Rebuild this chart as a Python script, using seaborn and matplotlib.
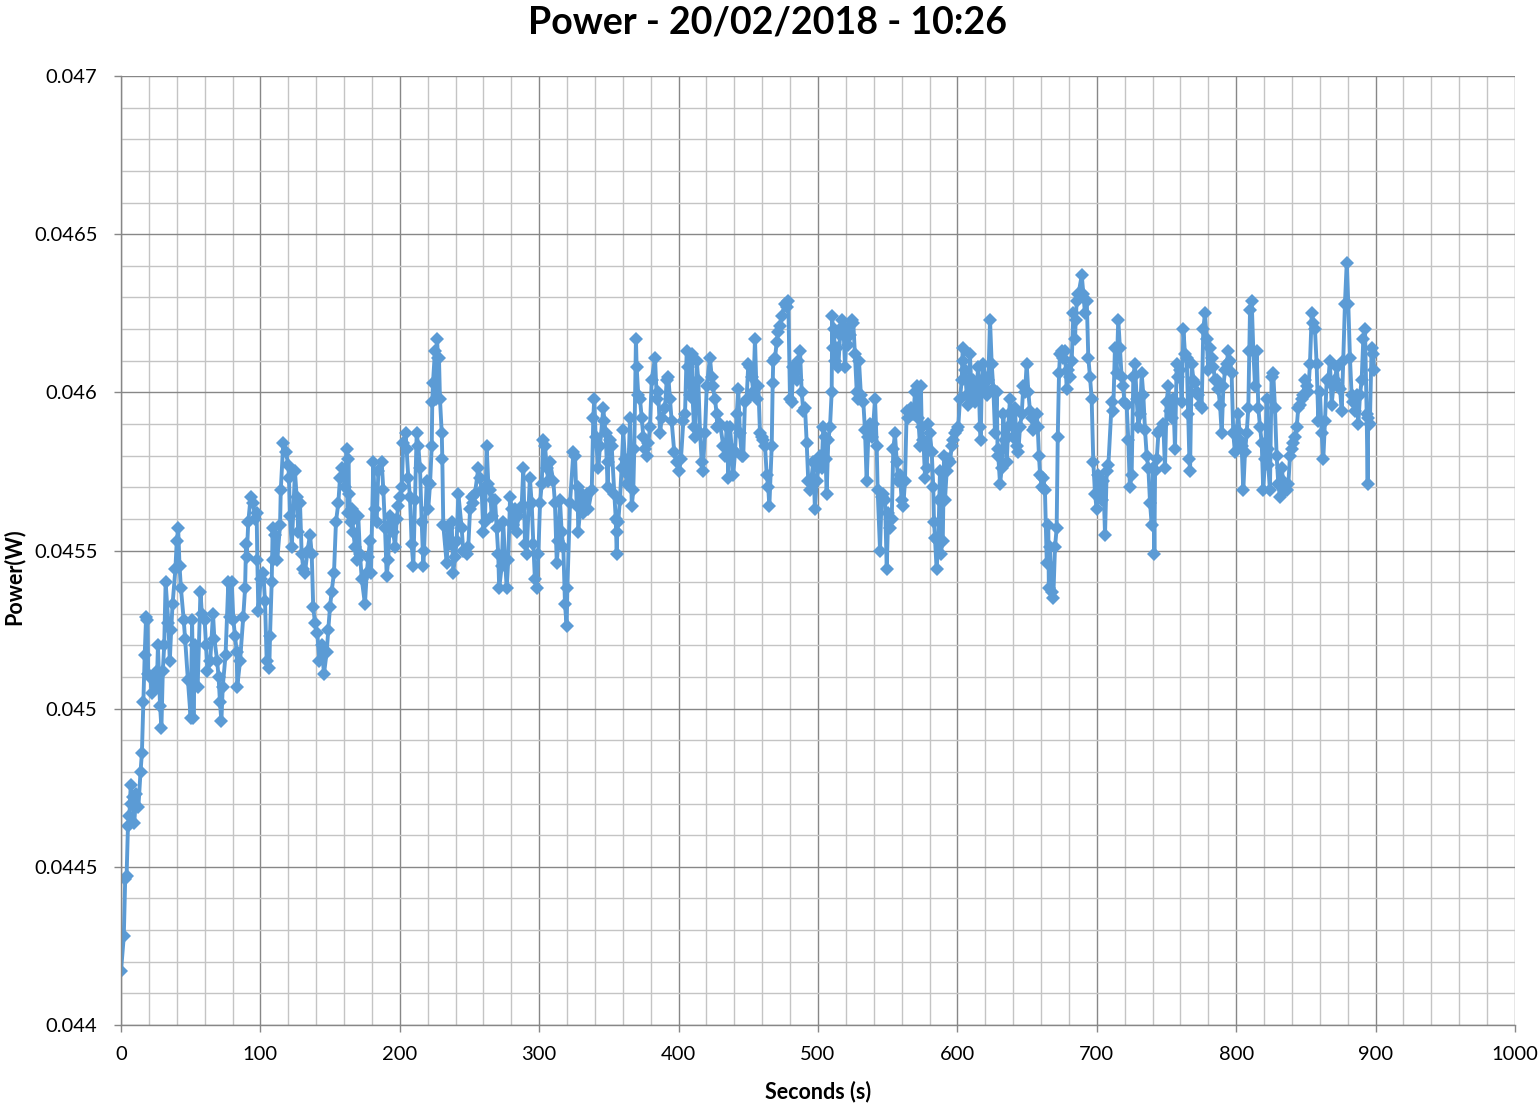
import numpy as np
import pandas as pd
import matplotlib
matplotlib.use("Agg")
import matplotlib.pyplot as plt
import seaborn as sns
from matplotlib.ticker import MultipleLocator, FuncFormatter

# Readings taken off the chart: time (s) and power (mW)
time_s = [
    0, 2, 3, 4, 5, 6, 7, 7.5, 8.5, 9.5,
    11, 12.5, 14, 15, 16, 17, 18, 19, 19.5, 21,
    22, 24, 25, 26, 26.5, 28, 29, 30, 31, 32,
    34, 35, 36, 37, 39, 40, 41, 42, 43, 45,
    46, 48, 50, 51, 52, 53, 55, 57, 58, 60,
    61, 62, 64, 66, 67, 69, 70, 71, 72, 73,
    75, 77, 78, 79.4, 80.6, 81.8, 83.0, 83.4, 85.4, 87.7,
    89.0, 89.7, 90.2, 91.3, 93.0, 94.9, 96.1, 97.3, 97.8, 98.5,
    100.2, 102.1, 103.3, 104.5, 106.4, 106.9, 108.1, 108.8, 109.3, 110.5,
    112.1, 114.1, 114.6, 116.4, 118.4, 120.0, 120.5, 121.2, 122.5, 124.8,
    126.0, 127.2, 128.4, 129.6, 130.8, 132.0, 133.8, 135.6, 136.8, 137.9,
    139.2, 140.8, 142.3, 144.0, 145.6, 147.6, 148.7, 149.9, 151.1, 152.8,
    154.2, 155.9, 157.1, 158.3, 160.7, 161.9, 162.6, 163.1, 163.6, 165.0,
    165.5, 166.6, 167.9, 169.1, 170.2, 171.4, 172.7, 175.0, 176.3, 177.4,
    178.6, 179.3, 181.0, 182.2, 183.4, 184.6, 187.0, 188.2, 189.4, 190.6,
    191.7, 192.9, 194.2, 195.3, 196.6, 197.8, 198.9, 200.1, 201.4, 202.5,
    204.2, 204.9, 206.1, 207.3, 208.5, 209.7, 210.9, 212.1, 213.3, 214.5,
    215.7, 216.9, 217.4, 219.3, 220.4, 221.7, 222.9, 223.3, 223.8, 225.2,
    225.9, 226.7, 227.4, 228.1, 228.8, 230.1, 230.5, 231.2, 233.6, 234.8,
    236.0, 237.2, 238.4, 239.6, 240.8, 242.0, 244.4, 245.5, 246.8, 248.0,
    249.1, 250.4, 251.6, 252.7, 253.9, 256.3, 257.5, 258.7, 259.9, 261.1,
    262.3, 263.5, 264.7, 265.9, 267.1, 268.3, 269.5, 270.6, 271.3, 273.1,
    274.2, 275.5, 276.7, 277.8, 279.1, 280.3, 281.4, 282.6, 283.9, 285.0,
    286.2, 287.4, 288.6, 289.8, 291.0, 293.3, 294.6, 295.8, 296.9, 298.2,
    299.4, 300.6, 301.8, 302.9, 304.2, 305.4, 306.5, 307.7, 310.1, 311.3,
    312.6, 313.7, 314.9, 316.1, 317.3, 318.5, 319.7, 320.2, 322.1, 324.5,
    325.7, 326.9, 327.5, 328.0, 330.5, 331.6, 334.1, 335.2, 337.7, 338.8,
    339.5, 340.5, 342.4, 343.6, 346.0, 346.7, 347.7, 349.1, 349.6, 350.8,
    352.0, 353.9, 354.9, 355.6, 356.0, 356.7, 357.9, 359.1, 360.3, 361.5,
    362.8, 363.9, 365.1, 366.4, 367.5, 368.2, 369.4, 369.9, 371.1, 372.3,
    373.5, 374.7, 375.9, 377.1, 378.3, 379.5, 380.7, 383.1, 384.3, 385.4,
    386.7, 387.9, 390.2, 391.5, 392.6, 393.8, 395.0, 396.9, 398.6, 400.3,
    401.7, 403.4, 404.6, 405.8, 407.0, 408.2, 409.4, 410.1, 411.0, 411.8,
    413.0, 414.1, 415.4, 416.6, 417.3, 418.9, 420.2, 422.5, 423.7, 424.4,
    426.1, 427.3, 427.7, 429.7, 432.1, 433.3, 434.5, 435.7, 436.9, 438.1,
    439.2, 440.5, 441.7, 442.8, 444.0, 445.3, 446.4, 447.6, 448.8, 450.0,
    451.2, 452.4, 453.6, 454.8, 456.0, 457.2, 458.4, 459.6, 460.8, 462.0,
    463.2, 464.3, 465.1, 466.8, 467.5, 467.9, 469.2, 470.4, 471.5, 472.7,
    473.9, 476.3, 477.5, 478.7, 479.9, 481.1, 482.3, 484.7, 485.9, 487.1,
    488.3, 489.5, 490.7, 491.9, 493.0, 494.3, 496.6, 497.8, 499.1, 500.2,
    501.4, 502.6, 503.8, 505.0, 505.5, 506.2, 507.4, 508.6, 509.8, 510.2,
    510.6, 511.3, 512.5, 513.4, 514.6, 515.8, 517.0, 518.2, 519.4, 520.6,
    521.7, 522.9, 524.2, 525.3, 526.5, 527.8, 528.5, 529.4, 530.8, 532.5,
    533.7, 534.9, 536.1, 537.2, 538.5, 539.7, 540.9, 542.1, 542.8, 544.5,
    545.6, 546.8, 548.1, 549.3, 550.4, 551.7, 552.9, 554.0, 555.2, 556.5,
    557.6, 558.8, 560.0, 561.2, 562.4, 563.6, 564.8, 566.7, 568.4, 569.6,
    570.8, 571.9, 573.2, 573.8, 574.4, 575.6, 576.8, 578.0, 579.1, 580.3,
    581.6, 582.7, 583.2, 583.9, 585.1, 586.3, 587.0, 587.5, 588.0, 589.5,
    590.4, 591.1, 592.3, 593.5, 594.7, 595.9, 597.1, 598.3, 599.5, 600.6,
    601.9, 603.1, 603.8, 604.2, 605.5, 606.7, 607.8, 609.0, 610.3, 611.4,
    612.6, 615.0, 616.2, 616.7, 617.4, 618.6, 619.8, 621.0, 622.2, 623.4,
    624.6, 625.8, 627.0, 628.2, 628.8, 629.3, 630.6, 631.8, 632.9, 634.1,
    635.4, 636.5, 637.7, 638.9, 640.1, 641.3, 642.5, 643.7, 644.9, 646.1,
    647.3, 648.5, 649.7, 650.9, 652.1, 653.3, 654.4, 655.7, 656.9, 657.6,
    658.5, 659.3, 660.5, 661.7, 662.8, 664.1, 665.2, 665.6, 666.4, 667.6,
    668.8, 670.0, 671.2, 672.0, 672.9, 673.6, 674.8, 676.0, 677.2, 678.4,
    679.6, 680.8, 682.0, 683.2, 684.4, 684.9, 685.6, 686.8, 689.2, 690.4,
    691.5, 692.8, 693.9, 695.1, 696.3, 697.5, 698.7, 699.9, 701.1, 702.3,
    703.5, 704.7, 705.9, 707.1, 708.3, 710.7, 711.8, 713.0, 714.2, 715.4,
    716.6, 717.8, 719.0, 719.7, 721.4, 722.6, 723.7, 725.0, 726.2, 727.4,
    728.6, 729.8, 731.0, 732.2, 733.4, 734.6, 735.8, 737.0, 738.2, 739.4,
    740.6, 741.3, 741.8, 743.0, 744.2, 745.3, 747.7, 748.9, 750.1, 751.3,
    752.5, 753.7, 754.9, 756.1, 757.3, 758.5, 759.7, 760.9, 762.1, 763.3,
    764.5, 765.6, 766.4, 766.9, 768.1, 769.3, 770.5, 771.7, 772.8, 774.0,
    775.2, 776.4, 777.6, 778.8, 780.0, 781.2, 782.4, 783.6, 784.8, 786.0,
    787.2, 788.4, 789.6, 790.8, 792.0, 793.2, 794.3, 795.5, 796.7, 797.9,
    799.1, 800.3, 801.5, 802.7, 803.9, 805.1, 806.3, 807.5, 808.7, 809.4,
    809.9, 811.1, 812.3, 813.5, 814.7, 815.9, 817.1, 818.3, 819.4, 820.7,
    821.9, 822.6, 823.0, 824.2, 825.4, 826.6, 827.8, 829.0, 830.2, 831.4,
    832.6, 833.8, 835.0, 836.2, 837.4, 838.6, 839.8, 841.0, 842.2, 843.4,
    844.5, 845.8, 847.0, 848.1, 849.4, 850.6, 851.7, 852.9, 854.2, 855.3,
    856.5, 857.7, 858.9, 860.1, 861.3, 862.5, 863.7, 864.9, 866.1, 867.2,
    868.5, 869.7, 870.9, 872.1, 873.2, 874.5, 875.7, 876.8, 878.0, 879.3,
    880.4, 881.6, 882.8, 884.0, 885.2, 886.4, 887.6, 888.8, 890.0, 891.2,
    892.4, 893.6, 894.3, 894.7, 895.9, 897.1, 898.3, 899.0,
]

power_mw = [
    44.17, 44.28, 44.46, 44.47, 44.63, 44.66, 44.76, 44.70, 44.72, 44.64,
    44.73, 44.69, 44.80, 44.86, 45.02, 45.17, 45.29, 45.28, 45.11, 45.10,
    45.05, 45.09, 45.07, 45.12, 45.20, 45.01, 44.94, 45.12, 45.20, 45.40,
    45.27, 45.15, 45.25, 45.33, 45.44, 45.53, 45.57, 45.45, 45.38, 45.28,
    45.22, 45.09, 44.97, 45.28, 44.97, 45.20, 45.07, 45.37, 45.30, 45.28,
    45.20, 45.12, 45.15, 45.30, 45.22, 45.15, 45.10, 45.02, 44.96, 45.07,
    45.17, 45.40, 45.29, 45.40, 45.28, 45.23, 45.18, 45.07, 45.15, 45.29,
    45.38, 45.52, 45.48, 45.59, 45.67, 45.65, 45.60, 45.62, 45.47, 45.31,
    45.41, 45.43, 45.34, 45.15, 45.13, 45.23, 45.40, 45.57, 45.47, 45.55,
    45.47, 45.58, 45.69, 45.84, 45.81, 45.77, 45.73, 45.61, 45.51, 45.75,
    45.67, 45.56, 45.65, 45.49, 45.44, 45.43, 45.50, 45.55, 45.49, 45.32,
    45.27, 45.24, 45.15, 45.20, 45.11, 45.18, 45.25, 45.32, 45.37, 45.43,
    45.59, 45.65, 45.73, 45.76, 45.70, 45.82, 45.62, 45.79, 45.68, 45.59,
    45.63, 45.56, 45.51, 45.47, 45.61, 45.49, 45.41, 45.33, 45.43, 45.48,
    45.53, 45.43, 45.78, 45.63, 45.59, 45.75, 45.78, 45.69, 45.57, 45.42,
    45.47, 45.61, 45.59, 45.56, 45.51, 45.60, 45.64, 45.67, 45.70, 45.84,
    45.87, 45.82, 45.73, 45.67, 45.52, 45.45, 45.66, 45.87, 45.83, 45.76,
    45.59, 45.45, 45.50, 45.72, 45.63, 45.71, 45.83, 45.97, 46.03, 46.13,
    45.98, 46.17, 46.11, 46.11, 45.98, 45.87, 45.79, 45.58, 45.46, 45.57,
    45.52, 45.59, 45.43, 45.48, 45.53, 45.68, 45.57, 45.50, 45.50, 45.49,
    45.51, 45.63, 45.67, 45.65, 45.68, 45.76, 45.73, 45.69, 45.56, 45.59,
    45.83, 45.71, 45.69, 45.61, 45.66, 45.66, 45.57, 45.49, 45.38, 45.45,
    45.59, 45.47, 45.38, 45.47, 45.67, 45.63, 45.58, 45.63, 45.56, 45.61,
    45.63, 45.64, 45.76, 45.52, 45.49, 45.73, 45.65, 45.52, 45.41, 45.38,
    45.49, 45.65, 45.71, 45.85, 45.83, 45.76, 45.72, 45.78, 45.72, 45.65,
    45.46, 45.53, 45.66, 45.56, 45.51, 45.33, 45.26, 45.38, 45.65, 45.81,
    45.80, 45.64, 45.70, 45.56, 45.68, 45.62, 45.68, 45.63, 45.69, 45.92,
    45.98, 45.86, 45.76, 45.83, 45.95, 45.91, 45.87, 45.70, 45.78, 45.85,
    45.83, 45.68, 45.60, 45.49, 45.56, 45.59, 45.66, 45.76, 45.88, 45.79,
    45.71, 45.74, 45.92, 45.64, 45.69, 45.82, 46.17, 46.08, 45.99, 45.98,
    45.92, 45.86, 45.82, 45.80, 45.84, 45.89, 46.04, 46.11, 45.98, 46.00,
    45.87, 45.92, 45.95, 46.04, 46.05, 45.98, 45.91, 45.81, 45.78, 45.75,
    45.79, 45.91, 45.93, 46.13, 46.08, 45.99, 46.12, 45.98, 45.89, 45.86,
    46.10, 46.04, 45.87, 45.78, 45.75, 45.87, 46.02, 46.11, 46.05, 46.02,
    45.98, 45.93, 45.89, 45.90, 45.83, 45.80, 45.89, 45.73, 45.89, 45.82,
    45.74, 45.81, 45.93, 46.01, 45.87, 45.80, 45.80, 45.97, 45.98, 46.09,
    46.08, 46.05, 46.00, 46.17, 45.98, 46.02, 45.87, 45.86, 45.85, 45.83,
    45.74, 45.70, 45.64, 45.83, 46.03, 46.10, 46.11, 46.16, 46.19, 46.21,
    46.24, 46.28, 46.27, 46.29, 45.98, 45.97, 46.08, 46.04, 46.10, 46.13,
    46.00, 45.94, 45.95, 45.84, 45.72, 45.69, 45.78, 45.63, 45.72, 45.76,
    45.80, 45.76, 45.89, 45.86, 45.79, 45.68, 45.85, 45.89, 46.00, 46.24,
    46.14, 46.20, 46.10, 46.14, 46.08, 46.18, 46.23, 46.21, 46.08, 46.20,
    46.15, 46.18, 46.23, 46.22, 46.12, 46.00, 45.98, 46.10, 45.99, 45.97,
    45.88, 45.72, 45.86, 45.90, 45.86, 45.90, 45.98, 45.83, 45.69, 45.50,
    45.67, 45.68, 45.66, 45.44, 45.62, 45.57, 45.60, 45.82, 45.87, 45.78,
    45.72, 45.74, 45.66, 45.64, 45.72, 45.94, 45.92, 45.95, 45.93, 46.00,
    46.02, 45.92, 45.83, 46.02, 45.89, 45.85, 45.73, 45.76, 45.90, 45.87,
    45.81, 45.70, 45.59, 45.54, 45.44, 45.53, 45.66, 45.75, 45.49, 45.53,
    45.80, 45.66, 45.75, 45.79, 45.78, 45.83, 45.85, 45.87, 45.88, 45.89,
    45.98, 46.04, 46.14, 46.10, 46.07, 45.99, 45.96, 46.12, 45.99, 46.04,
    45.97, 46.08, 45.89, 45.85, 46.01, 46.09, 46.05, 45.99, 46.04, 46.23,
    46.09, 46.01, 45.87, 46.00, 45.82, 45.80, 45.71, 45.76, 45.93, 45.85,
    45.78, 45.89, 45.98, 45.94, 45.86, 45.95, 45.83, 45.81, 45.89, 45.93,
    46.02, 46.00, 46.09, 46.00, 45.94, 45.92, 45.88, 45.89, 45.93, 45.89,
    45.80, 45.74, 45.70, 45.73, 45.69, 45.46, 45.58, 45.38, 45.51, 45.37,
    45.35, 45.51, 45.57, 45.86, 46.06, 46.12, 46.13, 46.11, 46.13, 46.01,
    46.07, 46.05, 46.10, 46.25, 46.17, 46.23, 46.29, 46.31, 46.37, 46.31,
    46.25, 46.29, 46.11, 46.05, 45.98, 45.78, 45.68, 45.63, 45.74, 45.70,
    45.66, 45.72, 45.55, 45.75, 45.77, 45.97, 45.94, 46.14, 46.06, 46.23,
    46.14, 46.05, 46.02, 45.97, 45.96, 45.85, 45.70, 45.74, 46.05, 46.09,
    45.98, 45.89, 45.93, 46.06, 45.99, 45.88, 45.80, 45.76, 45.65, 45.58,
    45.76, 45.49, 45.75, 45.79, 45.87, 45.88, 45.90, 45.76, 45.97, 46.02,
    45.94, 45.92, 45.98, 45.82, 46.09, 46.05, 46.07, 45.97, 46.20, 46.12,
    46.11, 45.93, 45.79, 45.75, 46.09, 46.04, 46.03, 46.00, 45.99, 45.96,
    45.95, 46.20, 46.25, 46.17, 46.07, 46.14, 46.11, 46.08, 46.04, 46.04,
    46.01, 45.96, 45.87, 46.02, 46.07, 46.09, 46.13, 46.10, 46.06, 45.87,
    45.81, 45.88, 45.93, 45.85, 45.83, 45.69, 45.81, 45.87, 45.95, 46.13,
    46.26, 46.29, 46.13, 46.02, 46.13, 45.95, 45.89, 45.84, 45.69, 45.79,
    45.98, 45.82, 45.77, 45.69, 46.05, 46.06, 45.95, 45.80, 45.71, 45.67,
    45.76, 45.72, 45.69, 45.69, 45.71, 45.80, 45.82, 45.84, 45.86, 45.89,
    45.95, 45.96, 45.98, 45.99, 46.04, 46.02, 46.00, 46.09, 46.25, 46.22,
    46.20, 46.09, 45.91, 46.00, 45.87, 45.79, 45.91, 46.04, 46.04, 46.10,
    45.96, 46.02, 46.04, 46.08, 46.02, 46.01, 45.94, 46.10, 46.28, 46.41,
    46.28, 46.11, 45.99, 45.97, 45.94, 45.99, 45.90, 45.99, 46.04, 46.17,
    46.20, 45.93, 45.71, 45.92, 45.90, 46.14, 46.12, 46.07,
]

x_ticks = np.arange(0, 1001, 100)
y_ticks = [0.044, 0.0445, 0.045, 0.0455, 0.046, 0.0465, 0.047]

LINE_COLOR = '#5B9BD5'
MAJOR_GRID = '#878787'
MINOR_GRID = '#c4c4c4'

assert len(time_s) == len(power_mw)
df = pd.DataFrame({'Seconds': time_s, 'Power': np.array(power_mw) / 1000.0})

sns.set_theme(style="white")
plt.rcParams['font.family'] = ['Lato', 'DejaVu Sans']
plt.rcParams['text.color'] = '#000000'

W, H = 1540, 1107
fig = plt.figure(figsize=(W / 100, H / 100), dpi=100)
ax = fig.add_axes([121 / W, 1 - 1025 / H, (1515 - 121) / W, (1025 - 76) / H])

sns.lineplot(data=df, x='Seconds', y='Power', ax=ax, color=LINE_COLOR,
             linewidth=2.8, marker='D', markersize=7.5, markeredgewidth=0,
             estimator=None, sort=False)

ax.set_xlim(0, 1000)
ax.set_ylim(0.044, 0.047)
ax.set_xticks(x_ticks)
ax.set_yticks(y_ticks)
ax.xaxis.set_minor_locator(MultipleLocator(20))
ax.yaxis.set_minor_locator(MultipleLocator(0.0001))
ax.yaxis.set_major_formatter(FuncFormatter(lambda v, _: f"{v:g}"))
ax.xaxis.set_major_formatter(FuncFormatter(lambda v, _: f"{v:.0f}"))

ax.grid(which='minor', color=MINOR_GRID, linewidth=1)
ax.grid(which='major', color=MAJOR_GRID, linewidth=1)
ax.set_axisbelow(True)
for side in ['top', 'right']:
    ax.spines[side].set_visible(False)
for side in ['left', 'bottom']:
    ax.spines[side].set_color(MAJOR_GRID)
    ax.spines[side].set_linewidth(1)

ax.tick_params(which='major', direction='out', length=5, width=1, color=MAJOR_GRID,
               labelsize=14.5, labelcolor='#000000', left=True, bottom=True)
ax.tick_params(axis='y', pad=12)
ax.tick_params(axis='x', pad=10)
ax.tick_params(which='minor', length=0)

ax.set_xlabel('')
ax.set_ylabel('')
fig.text(818 / W, 1 - 1092 / H, 'Seconds (s)', ha='center', va='center',
         fontsize=15.5, fontweight='bold', color='#000000')
fig.text(14 / W, 1 - 577 / H, 'Power(W)', ha='center', va='center',
         rotation=90, fontsize=15.5, fontweight='bold', color='#000000')
fig.text(767 / W, 1 - 23 / H, 'Power - 20/02/2018 - 10:26', ha='center', va='center',
         fontsize=27, fontweight='bold', color='#000000')

fig.savefig('out.png', dpi=100)
